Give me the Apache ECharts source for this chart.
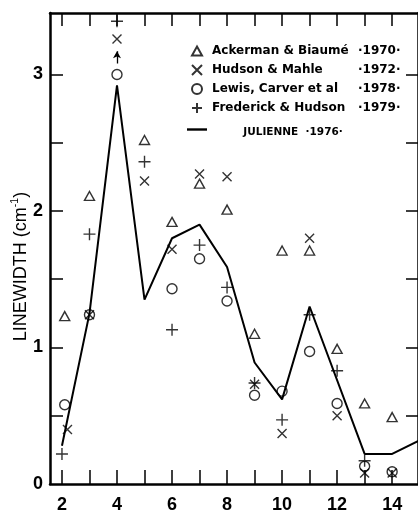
<!DOCTYPE html>
<html>
<head>
<meta charset="utf-8">
<script src="https://cdn.jsdelivr.net/npm/echarts@6/dist/echarts.min.js"></script>
<style>
html,body{margin:0;padding:0;background:#fff;}
#c{width:418px;height:514px;}
</style>
</head>
<body>
<div id="c"></div>
<script>
// ---- data ----
var ackermanX = [2.1, 3, 5, 6, 7, 8, 9, 10, 11, 12, 13, 14];
var ackermanY = [1.23, 2.11, 2.52, 1.92, 2.20, 2.01, 1.10, 1.71, 1.71, 0.99, 0.59, 0.49];

var hudsonX = [2.2, 3, 4, 5, 6, 7, 8, 9, 10, 11, 12, 13, 14];
var hudsonY = [0.40, 1.24, 3.26, 2.22, 1.72, 2.27, 2.25, 0.73, 0.37, 1.80, 0.50, 0.08, 0.08];

var lewisX = [2.1, 3, 4, 6, 7, 8, 9, 10, 11, 12, 13, 14];
var lewisY = [0.58, 1.24, 3.00, 1.43, 1.65, 1.34, 0.65, 0.68, 0.97, 0.59, 0.13, 0.09];

var frederickX = [2, 3, 4, 5, 6, 7, 8, 9, 10, 11, 12, 13];
var frederickY = [0.22, 1.83, 3.39, 2.36, 1.13, 1.75, 1.44, 0.74, 0.47, 1.24, 0.83, 0.17];

var julienneX = [2, 3, 4, 5, 6, 7, 8, 9, 10, 11, 13, 14, 15];
var julienneY = [0.28, 1.25, 2.92, 1.35, 1.80, 1.90, 1.59, 0.89, 0.62, 1.30, 0.22, 0.22, 0.32];

// arrow at x = 4 (lower limit indicator)
var arrowX = 4;
var arrowFromY = 3.08;
var arrowToY = 3.17;

var seriesNames = ['Ackerman & Biaumé', 'Hudson & Mahle', 'Lewis, Carver et al', 'Frederick & Hudson', 'JULIENNE'];
var seriesYears = ['·1970·', '·1972·', '·1978·', '·1979·', '·1976·'];

var xTicks = [2, 3, 4, 5, 6, 7, 8, 9, 10, 11, 12, 13, 14];
var xLabels = [2, 4, 6, 8, 10, 12, 14];
var yTicks = [0.5, 1, 1.5, 2, 2.5, 3];
var yLabels = [0, 1, 2, 3];

function pairs(xs, ys) { return xs.map(function (x, i) { return [x, ys[i]]; }); }

var chart = echarts.init(document.getElementById('c'), null, { renderer: 'canvas' });

var axisLineStyle = { color: '#000', width: 2.5 };
var tickStyle = { color: '#000', width: 1.5 };
var labelFont = { fontFamily: 'Liberation Sans', fontWeight: 'bold', fontSize: 18, color: '#000' };

var strokeItem = { color: 'transparent', borderColor: '#000', borderWidth: 1.4 };

var legendData = [
  { name: seriesNames[0], icon: 'path://M0,0M20,10M10,0.5L15,9.5L5,9.5Z' },
  { name: seriesNames[1] },
  { name: seriesNames[2] },
  { name: seriesNames[3] },
  { name: seriesNames[4], icon: 'path://M0,0L30,0L30,3.6L0,3.6Z', itemStyle: { color: '#000' } }
];

var option = {
  animation: false,
  backgroundColor: '#fff',
  grid: { left: 50, right: -1, top: 13, bottom: 30, containLabel: false },
  xAxis: [
    {
      type: 'value', position: 'bottom', min: 1.565, max: 14.94,
      axisLine: { show: true, onZero: false, lineStyle: axisLineStyle },
      axisTick: { show: true, inside: true, length: 14, lineStyle: tickStyle, customValues: xTicks },
      axisLabel: Object.assign({ show: true, margin: 12, customValues: xLabels }, labelFont),
      splitLine: { show: false }
    },
    {
      type: 'value', position: 'top', min: 1.565, max: 14.94,
      axisLine: { show: true, onZero: false, lineStyle: axisLineStyle },
      axisTick: { show: true, inside: true, length: 13, lineStyle: tickStyle, customValues: xTicks },
      axisLabel: { show: false },
      splitLine: { show: false }
    }
  ],
  yAxis: [
    {
      type: 'value', position: 'left', min: 0, max: 3.45,
      axisLine: { show: true, onZero: false, lineStyle: axisLineStyle },
      axisTick: { show: true, inside: true, length: 13, lineStyle: tickStyle, customValues: yTicks },
      axisLabel: Object.assign({ show: true, margin: 7, customValues: yLabels }, labelFont),
      splitLine: { show: false },
      name: '{a|LINEWIDTH (cm}{s|-1}{a|)}',
      nameLocation: 'middle',
      nameRotate: 90,
      nameGap: 20,
      nameMoveOverlap: false,
      nameTextStyle: {
        padding: [0, 36, 0, 0],
        rich: {
          a: { fontFamily: 'Liberation Sans', fontSize: 18, color: '#000', lineHeight: 20, verticalAlign: 'bottom' },
          s: { fontFamily: 'Liberation Sans', fontSize: 10.5, color: '#000', lineHeight: 20, verticalAlign: 'top' }
        }
      }
    },
    {
      type: 'value', position: 'right', min: 0, max: 3.45,
      axisLine: { show: true, onZero: false, lineStyle: axisLineStyle },
      axisTick: { show: true, inside: true, length: 12, lineStyle: tickStyle, customValues: yTicks },
      axisLabel: { show: false },
      splitLine: { show: false }
    }
  ],
  legend: {
    orient: 'vertical',
    left: 186,
    top: 45,
    padding: 0,
    itemWidth: 20,
    itemHeight: 10,
    itemGap: 7,
    selectedMode: false,
    data: legendData,
    formatter: function (name) {
      var i = seriesNames.indexOf(name);
      if (i === 4) return '{j|' + name + '  ' + seriesYears[i] + '}';
      return '{n|' + name + '}{y|' + seriesYears[i] + '}';
    },
    textStyle: {
      color: '#000',
      fontFamily: 'DejaVu Sans',
      fontWeight: 'bold',
      fontSize: 12,
      rich: {
        n: { fontFamily: 'DejaVu Sans', fontWeight: 'bold', fontSize: 12, width: 146, lineHeight: 14, color: '#000' },
        y: { fontFamily: 'DejaVu Sans', fontWeight: 'bold', fontSize: 12, lineHeight: 14, color: '#000' },
        j: { fontFamily: 'DejaVu Sans', fontWeight: 'bold', fontSize: 10.5, width: 162, align: 'center', lineHeight: 14, padding: [6, 0, 0, 0], color: '#000' }
      }
    }
  },
  series: [
    {
      name: seriesNames[0], type: 'scatter', data: pairs(ackermanX, ackermanY),
      symbol: 'triangle', symbolSize: [10, 9], itemStyle: strokeItem, z: 3
    },
    {
      name: seriesNames[1], type: 'scatter', data: pairs(hudsonX, hudsonY),
      symbol: 'path://M0,0L10,10M0,10L10,0', symbolSize: 9, itemStyle: strokeItem, z: 3
    },
    {
      name: seriesNames[2], type: 'scatter', data: pairs(lewisX, lewisY),
      symbol: 'circle', symbolSize: 10, itemStyle: strokeItem, z: 3,
      markLine: {
        silent: true,
        symbol: ['none', 'arrow'],
        symbolSize: [6, 7],
        label: { show: false },
        lineStyle: { color: '#000', width: 1.3, type: 'solid' },
        data: [[{ coord: [arrowX, arrowFromY] }, { coord: [arrowX, arrowToY] }]]
      }
    },
    {
      name: seriesNames[3], type: 'scatter', data: pairs(frederickX, frederickY),
      symbol: 'path://M5,0L5,10M0,5L10,5', symbolSize: 12, itemStyle: strokeItem, z: 3
    },
    {
      name: seriesNames[4], type: 'line', data: pairs(julienneX, julienneY),
      symbol: 'none', showSymbol: false, clip: true,
      lineStyle: { color: '#000', width: 2 }, itemStyle: { color: '#000' }, z: 2
    }
  ]
};
chart.setOption(option);
</script>
</body>
</html>
